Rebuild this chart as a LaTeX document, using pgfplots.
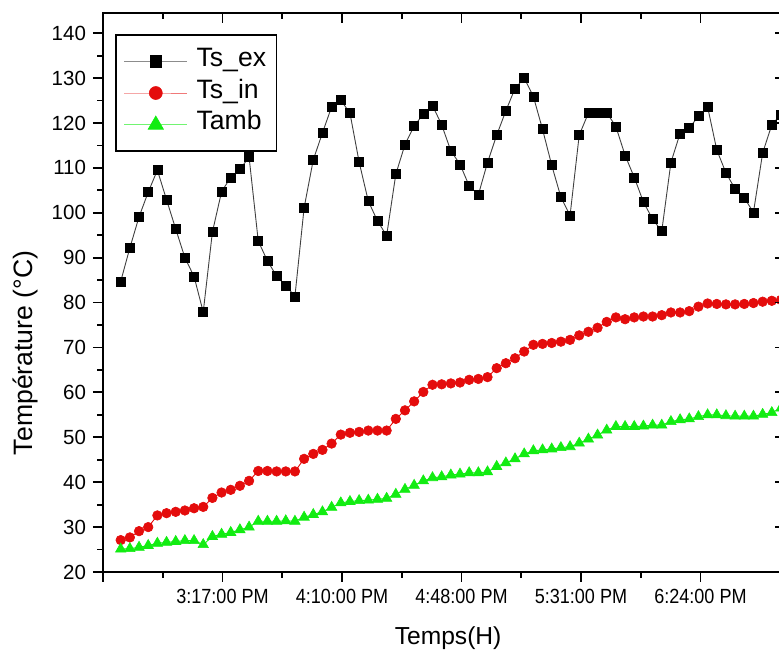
\documentclass[border=0pt]{standalone}
\usepackage{fontspec}
\setmainfont{Liberation Sans}
\newfontfamily\xtickfont{Liberation Sans}[FakeStretch=0.88]
\usepackage{pgfplots}
\pgfplotsset{compat=1.18}
\usepackage{pgfplotstable}
\definecolor{ored}{RGB}{228,12,12}
\definecolor{ogreen}{RGB}{18,236,18}

\pgfplotstableread{
i ex in amb
0 84.7 27.1 25.1
1 92.2 27.7 25.2
2 99.1 29.1 25.5
3 104.6 30.0 25.9
4 109.5 32.6 26.4
5 102.9 33.1 26.6
6 96.4 33.4 26.8
7 90.0 33.7 27.0
8 85.8 34.2 27.0
9 77.9 34.5 26.1
10 95.7 36.5 27.9
11 104.7 37.7 28.4
12 107.9 38.3 28.8
13 109.7 39.2 29.4
14 112.4 40.3 30.0
15 93.7 42.5 31.3
16 89.3 42.5 31.3
17 85.9 42.4 31.3
18 83.8 42.4 31.4
19 81.4 42.4 31.3
20 101.1 45.2 32.2
21 111.8 46.3 32.8
22 117.8 47.2 33.4
23 123.6 48.6 34.4
24 125.1 50.6 35.4
25 122.2 51.0 35.7
26 111.3 51.2 35.9
27 102.6 51.5 36.0
28 98.2 51.5 36.2
29 94.9 51.5 36.4
30 108.6 54.1 37.3
31 115.2 56.0 38.4
32 119.3 58.0 39.3
33 122.0 60.1 40.3
34 123.9 61.7 41.0
35 119.6 61.8 41.2
36 113.8 62.0 41.6
37 110.8 62.2 41.8
38 106.0 62.8 42.1
39 104.0 63.0 42.1
40 111.2 63.4 42.3
41 117.3 65.4 43.5
42 122.7 66.5 44.3
43 127.7 67.6 45.2
44 130.0 69.1 46.3
45 125.9 70.6 47.0
46 118.6 70.8 47.2
47 110.6 71.0 47.4
48 103.5 71.3 47.7
49 99.4 71.7 47.9
50 117.3 72.7 48.7
51 122.2 73.5 49.6
52 122.3 74.4 50.5
53 122.3 75.7 51.6
54 119.2 76.7 52.4
55 112.8 76.3 52.4
56 107.9 76.7 52.4
57 102.4 76.9 52.5
58 98.6 76.9 52.7
59 95.9 77.2 52.7
60 111.2 77.8 53.5
61 117.7 77.8 53.9
62 118.9 78.1 54.1
63 121.5 79.1 54.6
64 123.6 79.8 55.0
65 114.0 79.7 55.0
66 108.9 79.6 54.8
67 105.3 79.6 54.7
68 103.3 79.7 54.7
69 100.1 79.9 54.7
70 113.3 80.2 55.1
71 119.6 80.4 55.5
72 121.9 80.6 56.5
}\datatable

\begin{document}
\begin{tikzpicture}
\pgfplotsset{
  common/.style={
    at={(0pt,0pt)}, anchor=south west,
    scale only axis, width=341pt, height=279.5pt,
    xmin=-1.93, xmax=72.44, ymin=20, ymax=144.5,
    xtick={-1.93,11.10,24.13,37.16,50.19,63.22},
    minor x tick num=1,
    ytick={20,30,...,140},
    minor y tick num=1,
    major tick length=5pt, minor tick length=3pt,
    every tick/.style={black, line width=0.9pt},
    axis line style={black, line width=1.2pt},
  }
}
\begin{axis}[common,
  tick align=outside,
  xtick pos=left, ytick pos=left,
  xticklabels={,3:17:00 PM,4:10:00 PM,4:48:00 PM,5:31:00 PM,6:24:00 PM},
  xticklabel style={font=\xtickfont\fontsize{10.25}{12}\selectfont},
  yticklabel style={font=\fontsize{10.25}{12}\selectfont},
  /pgf/number format/assume math mode=true,
  xlabel={Temps(H)},
  ylabel={Température (°C)},
  xlabel style={font=\fontsize{12.3}{14}\selectfont, at={(axis description cs:0.506,-0.118)}, anchor=center},
  ylabel style={font=\fontsize{13.3}{15}\selectfont, at={(axis description cs:-0.1144,0.392)}, anchor=center},
  legend cell align=left,
  legend image code/.code={\draw[mark repeat=2,mark phase=2,#1] plot coordinates {(0pt,0pt) (15.75pt,0pt) (31.5pt,0pt)};},
  legend style={at={(axis description cs:0.0176,0.9624)}, anchor=north west,
    draw=black, line width=0.8pt, font=\fontsize{13.3}{15}\selectfont,
    inner xsep=4pt, inner ysep=7pt, row sep=3.5pt,
    nodes={inner sep=1.2pt, text height=0.75em, text depth=0.25em},
    /tikz/every odd column/.append style={column sep=3.2pt}},
]
\addplot[black!75, line width=0.45pt, mark=square*, mark size=2.25pt,
  mark options={fill=black, draw=black, line width=0.3pt}, forget plot] table[x=i, y=ex] {\datatable};
\addplot[ored, line width=0.45pt, mark=*, mark size=2.4pt,
  mark options={fill=ored, draw=ored, line width=0.3pt}, forget plot] table[x=i, y=in] {\datatable};
\addplot[ogreen, line width=0.45pt, mark=triangle*, mark size=3.0pt,
  mark options={fill=ogreen, draw=ogreen, line width=0.3pt}, forget plot] table[x=i, y=amb] {\datatable};
\addlegendimage{black!45, line width=0.5pt, mark=square*, mark size=2.9pt, mark options={fill=black, draw=black, line width=0.3pt}}
\addlegendentry{Ts\_ex}
\addlegendimage{ored!55, line width=0.5pt, mark=*, mark size=3.25pt, mark options={fill=ored, draw=ored, line width=0.3pt}}
\addlegendentry{Ts\_in}
\addlegendimage{ogreen!60, line width=0.5pt, mark=triangle*, mark size=4.4pt, mark options={fill=ogreen, draw=ogreen, line width=0.3pt}}
\addlegendentry{Tamb}
\end{axis}
\begin{axis}[common,
  tick align=inside,
  xtick pos=right, ytick pos=right,
  xticklabels={}, yticklabels={},
]
\end{axis}
\pgfresetboundingbox
\path[use as bounding box] (-51.5pt,-42pt) rectangle (338pt,286pt);
\end{tikzpicture}
\end{document}
